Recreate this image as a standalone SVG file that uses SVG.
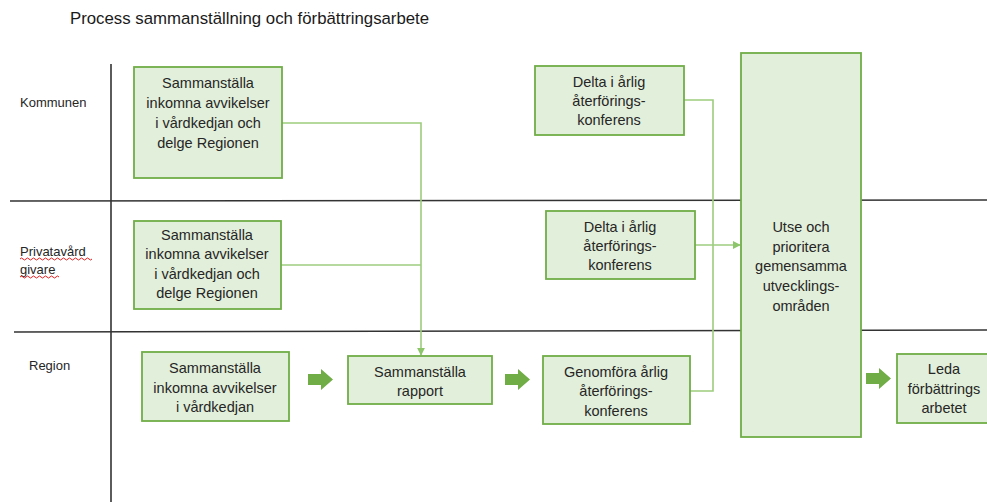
<svg xmlns="http://www.w3.org/2000/svg" width="987" height="502" viewBox="0 0 987 502">
<style>
.box{fill:#e2efda;stroke:#70ad47;stroke-width:1.8}
.t{font-family:"Liberation Sans",Arial,sans-serif;font-size:14.5px;fill:#262626;text-anchor:middle}
.lane{font-family:"Liberation Sans",Arial,sans-serif;font-size:13px;fill:#262626}
.title{font-family:"Liberation Sans",Arial,sans-serif;font-size:16.8px;fill:#1a1a1a}
.ln{stroke:#333;stroke-width:1.6;fill:none}
.cn{stroke:#9dcc7e;stroke-width:1.6;fill:none}
.blk{fill:#70ad47}
.wav{stroke:#e02020;stroke-width:1;fill:none}
</style>
<defs>
<marker id="ah" viewBox="0 0 10 10" refX="9" refY="5" markerWidth="5" markerHeight="5" orient="auto">
<path d="M0,0 L10,5 L0,10 z" fill="#8cc56a"/>
</marker>
<path id="bigArrow" d="M0,5 H13 V0 L25,10.5 L13,21 V16 H0 z"/>
</defs>
<text class="title" x="70" y="24">Process sammanställning och förbättringsarbete</text>
<g id="lanes">
<line class="ln" x1="111" y1="64" x2="111" y2="502"/>
<line class="ln" x1="10" y1="201" x2="987" y2="200"/>
<line class="ln" x1="14" y1="332" x2="987" y2="330"/>
<text class="lane" x="20" y="107">Kommunen</text>
<text class="lane" x="20" y="256">Privatavård</text>
<text class="lane" x="20" y="274">givare</text>
<path class="wav" d="M20,259 q1.5,-2 3,0 t3,0 t3,0 t3,0 t3,0 t3,0 t3,0 t3,0 t3,0 t3,0 t3,0 t3,0 t3,0 t3,0 t3,0 t3,0 t3,0 t3,0 t3,0 t3,0 t3,0 t3,0 t3,0 t3,0"/>
<path class="wav" d="M20,277 q1.5,-2 3,0 t3,0 t3,0 t3,0 t3,0 t3,0 t3,0 t3,0 t3,0 t3,0 t3,0 t3,0 t3,0"/>
<text class="lane" x="29" y="370">Region</text>
</g>
<g id="connectors">
<path class="cn" d="M282,123 H421 V355" marker-end="url(#ah)"/>
<path class="cn" d="M281,265 H421"/>
<path class="cn" d="M684,100 H713 V245"/>
<path class="cn" d="M690,391 H713 V245"/>
<path class="cn" d="M695,245 H740" marker-end="url(#ah)"/>
<use href="#bigArrow" class="blk" x="308" y="369"/>
<use href="#bigArrow" class="blk" x="505" y="369"/>
<use href="#bigArrow" class="blk" x="866" y="368"/>
</g>
<g id="kom-samman">
<rect class="box" x="134" y="67" width="148" height="111"/>
<text class="t" x="208" y="88">Sammanställa</text>
<text class="t" x="208" y="108">inkomna avvikelser</text>
<text class="t" x="208" y="128">i vårdkedjan och</text>
<text class="t" x="208" y="148">delge Regionen</text>
</g>
<g id="priv-samman">
<rect class="box" x="134" y="221" width="147" height="88"/>
<text class="t" x="207" y="240">Sammanställa</text>
<text class="t" x="207" y="259">inkomna avvikelser</text>
<text class="t" x="207" y="279">i vårdkedjan och</text>
<text class="t" x="207" y="298">delge Regionen</text>
</g>
<g id="reg-samman">
<rect class="box" x="142" y="352" width="147" height="69"/>
<text class="t" x="215" y="373">Sammanställa</text>
<text class="t" x="215" y="393">inkomna avvikelser</text>
<text class="t" x="215" y="412">i vårdkedjan</text>
</g>
<g id="rapport">
<rect class="box" x="348" y="356" width="144" height="48"/>
<text class="t" x="420" y="377">Sammanställa</text>
<text class="t" x="420" y="396">rapport</text>
</g>
<g id="genomfora">
<rect class="box" x="543" y="356" width="147" height="68"/>
<text class="t" x="616" y="377">Genomföra årlig</text>
<text class="t" x="616" y="396">återförings-</text>
<text class="t" x="616" y="416">konferens</text>
</g>
<g id="delta-kom">
<rect class="box" x="535" y="66" width="149" height="69"/>
<text class="t" x="609" y="87">Delta i årlig</text>
<text class="t" x="609" y="106">återförings-</text>
<text class="t" x="609" y="125">konferens</text>
</g>
<g id="delta-priv">
<rect class="box" x="546" y="211" width="149" height="68"/>
<text class="t" x="620" y="232">Delta i årlig</text>
<text class="t" x="620" y="251">återförings-</text>
<text class="t" x="620" y="270">konferens</text>
</g>
<g id="utse">
<rect class="box" x="741" y="53" width="120" height="384"/>
<text class="t" x="801" y="232">Utse och</text>
<text class="t" x="801" y="252">prioritera</text>
<text class="t" x="801" y="271">gemensamma</text>
<text class="t" x="801" y="291">utvecklings-</text>
<text class="t" x="801" y="311">områden</text>
</g>
<g id="leda">
<rect class="box" x="897" y="354" width="94" height="69"/>
<text class="t" x="944" y="374">Leda</text>
<text class="t" x="944" y="394">förbättrings</text>
<text class="t" x="944" y="413">arbetet</text>
</g>
</svg>
